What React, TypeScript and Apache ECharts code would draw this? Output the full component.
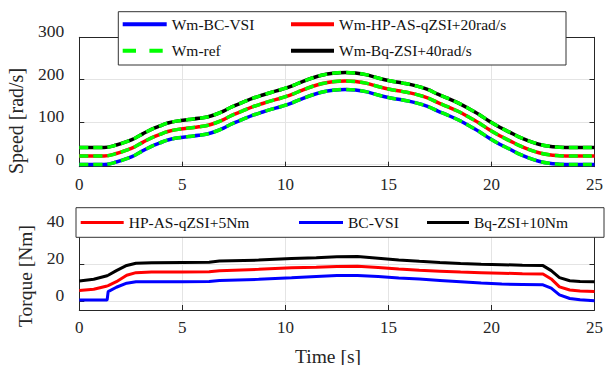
import React, { useEffect, useRef } from 'react';
import * as echarts from 'echarts';

// ---- Speed (top panel) ----
const speedTime = [0, 1.2, 1.8, 2.3, 2.7, 3.1, 3.5, 3.9, 4.3, 4.8, 5.3, 5.8, 6.2, 6.6, 7.0, 7.4, 7.9, 8.4, 8.9, 9.3, 9.8, 10.3, 10.8, 11.3, 11.8, 12.3, 12.9, 13.4, 13.9, 14.5, 15.0, 15.7, 16.3, 16.9, 17.4, 17.9, 18.4, 18.9, 19.4, 19.9, 20.4, 20.9, 21.3, 21.8, 22.3, 22.8, 23.3, 23.8, 25];
// measured speed (all converters track the reference)
const speedRef = [0, 0, 6, 14, 22, 33, 43, 51, 58, 63, 66, 69, 72, 78, 86, 96, 106, 116, 124, 130, 137, 145, 155, 164, 171, 175, 177, 176, 172, 164, 158, 152, 146, 137, 126, 116, 105, 92, 78, 62, 48, 36, 26, 16, 8, 3, 1, 0, 0];
const speedOffsetBC = 0;
const speedOffsetHP = 20;
const speedOffsetBq = 40;

// ---- Torque (bottom panel) ----
const torqueTime = [0, 0.7, 1.35, 1.4, 1.8, 2.3, 2.75, 3.5, 5, 6.3, 6.8, 8.7, 10.3, 11.5, 12.5, 13.5, 14.5, 15.5, 16.5, 17.5, 18.5, 19.5, 20.5, 21.5, 22.5, 22.9, 23.3, 23.8, 24.3, 25];
const torqueBC = [0.4, 0.4, 0.4, 4.9, 7.3, 9.5, 10.3, 10.3, 10.3, 10.4, 10.9, 11.6, 12.4, 13.1, 13.6, 13.6, 13.1, 12.3, 11.7, 11.0, 10.3, 9.6, 9.0, 8.8, 8.6, 6.8, 3.2, 1.2, 0.5, 0.0];
const torqueHP = [0.5, 1.2, 3.0, 3.2, 5.3, 8.8, 10.2, 10.5, 10.6, 10.7, 11.2, 12.0, 12.8, 13.1, 13.5, 13.6, 13.0, 12.2, 11.5, 11.0, 10.5, 10.2, 9.9, 9.6, 9.5, 6.8, 2.5, 0.8, 0.3, 0.0];
const torqueBq = [0.7, 1.6, 3.5, 3.8, 6.3, 9.1, 10.3, 10.6, 10.7, 10.8, 11.5, 12.0, 12.9, 13.3, 13.8, 13.9, 13.0, 12.1, 11.3, 10.7, 10.2, 9.8, 9.5, 9.2, 9.0, 6.3, 2.5, 0.8, 0.4, 0.3];
const torqueOffsetHP = 5;
const torqueOffsetBq = 10;

const timeTicks = [0, 5, 10, 15, 20, 25];
const speedTicks = [0, 100, 200, 300];
const torqueTicks = [0, 20, 40];

const FONT = 'Liberation Serif';
const AXIS_COLOR = '#262626';
const GRID_COLOR = '#e4e4e4';

const pairs = (t: number[], v: number[], off: number) => t.map((x, i) => [x, v[i] + off]);

function xAxes(grid: number) {
  const base = {
    gridIndex: grid,
    type: 'value' as const,
    min: timeTicks[0],
    max: timeTicks[timeTicks.length - 1],
    interval: timeTicks[1] - timeTicks[0],
    axisLine: { show: true, onZero: false, lineStyle: { color: AXIS_COLOR, width: 1 } },
    axisTick: { show: true, inside: true, length: 5, lineStyle: { color: AXIS_COLOR } },
  };
  return [
    {
      ...base,
      position: 'bottom',
      axisLabel: {
        show: true,
        margin: 9,
        fontSize: 17,
        fontFamily: FONT,
        color: AXIS_COLOR,
      },
      splitLine: { show: true, lineStyle: { color: GRID_COLOR, width: 1 } },
    },
    {
      ...base,
      position: 'top',
      axisLabel: { show: false },
      splitLine: { show: false },
    },
  ];
}

function yAxes(grid: number, min: number, max: number, ticks: number[]) {
  const base = {
    gridIndex: grid,
    type: 'value' as const,
    min,
    max,
    axisLine: { show: true, onZero: false, lineStyle: { color: AXIS_COLOR, width: 1 } },
    axisTick: { show: true, inside: true, length: 5, customValues: ticks, lineStyle: { color: AXIS_COLOR } },
  };
  return [
    {
      ...base,
      position: 'left',
      axisLabel: {
        show: true,
        customValues: ticks,
        margin: 15,
        fontSize: 17.5,
        fontFamily: FONT,
        color: AXIS_COLOR,
        verticalAlign: 'bottom',
        lineHeight: 12,
      },
      splitLine: { show: true, lineStyle: { color: GRID_COLOR, width: 1 } },
    },
    {
      ...base,
      position: 'right',
      axisLabel: { show: false },
      splitLine: { show: false },
    },
  ];
}

function legendItem(name: string, left: number, top: number, itemWidth: number, itemHeight: number, icon: string, textPad: number[]) {
  return {
    data: [name],
    left,
    top,
    orient: 'horizontal',
    padding: 0,
    itemWidth,
    itemHeight,
    icon,
    selectedMode: false,
    z: 20,
    textStyle: { fontSize: 15.5, fontFamily: FONT, color: '#111', lineHeight: 16, padding: textPad },
  };
}

export default function App() {
  const ref = useRef<HTMLDivElement>(null);

  useEffect(() => {
    if (!ref.current) return;
    const chart = echarts.init(ref.current, null, { renderer: 'svg' });

    const speedLine = (name: string, color: string, off: number) => ({
      name,
      type: 'line',
      xAxisIndex: 0,
      yAxisIndex: 0,
      data: pairs(speedTime, speedRef, off),
      symbol: 'none',
      smooth: 0.35,
      lineStyle: { color, width: 3.5 },
      itemStyle: { color },
      z: 2,
    });
    const refLine = (off: number) => ({
      name: 'Wm-ref',
      type: 'line',
      xAxisIndex: 0,
      yAxisIndex: 0,
      data: pairs(speedTime, speedRef, off),
      symbol: 'none',
      smooth: 0.35,
      lineStyle: { color: '#00ff00', width: 3.5, type: [9, 5] },
      itemStyle: { color: '#00ff00' },
      z: 3,
    });
    const torqueLine = (name: string, color: string, v: number[], off: number) => ({
      name,
      type: 'line',
      xAxisIndex: 2,
      yAxisIndex: 2,
      data: pairs(torqueTime, v, off),
      symbol: 'none',
      lineStyle: { color, width: 3 },
      itemStyle: { color },
      z: 2,
    });

    chart.setOption({
      animation: false,
      backgroundColor: '#ffffff',
      textStyle: { fontFamily: FONT },
      grid: [
        { left: 79.3, top: 37.3, width: 521, height: 129.4, containLabel: false },
        { left: 79.3, top: 208.3, width: 521, height: 101.7, containLabel: false },
      ],
      xAxis: [...xAxes(0), ...xAxes(1)],
      yAxis: [...yAxes(0, -5, 300, speedTicks), ...yAxes(1, -5, 50, torqueTicks)],
      legend: [
        legendItem('Wm-BC-VSI', 122.7, 13.8, 44, 4, 'rect', [0, 0, 5, 0]),
        legendItem('Wm-HP-AS-qZSI+20rad/s', 291, 13.8, 43, 4, 'rect', [0, 0, 5, 0]),
        legendItem('Wm-ref', 122.7, 40.2, 40, 4, 'path://M0 0H13.3V4H0Z M26.7 0H40V4H26.7Z', [0, 0, 5, 4]),
        legendItem('Wm-Bq-ZSI+40rad/s', 291, 40.2, 43, 4, 'rect', [0, 0, 5, 0]),
        legendItem('HP-AS-qZSI+5Nm', 80.7, 214.5, 43, 3, 'rect', [0, 0, 0, 0]),
        legendItem('BC-VSI', 299, 214.5, 44, 3, 'rect', [0, 0, 0, 0]),
        legendItem('Bq-ZSI+10Nm', 427, 214.5, 42, 3, 'rect', [0, 0, 0, 0]),
      ],
      graphic: [
        {
          type: 'rect',
          z: 10,
          shape: { x: 118.3, y: 11.7, width: 447.7, height: 53.3 },
          style: { fill: '#ffffff', stroke: '#333333', lineWidth: 1 },
        },
        {
          type: 'rect',
          z: 10,
          shape: { x: 76, y: 207.7, width: 528, height: 29.6 },
          style: { fill: '#ffffff', stroke: '#333333', lineWidth: 1 },
        },
        {
          type: 'text',
          z: 30,
          x: 16,
          y: 121,
          rotation: Math.PI / 2,
          style: { text: 'Speed [rad/s]', fontSize: 20, fontFamily: FONT, fill: AXIS_COLOR, align: 'center', verticalAlign: 'middle' },
        },
        {
          type: 'text',
          z: 30,
          x: 25,
          y: 276,
          rotation: Math.PI / 2,
          style: { text: 'Torque [Nm]', fontSize: 19.5, fontFamily: FONT, fill: AXIS_COLOR, align: 'center', verticalAlign: 'middle' },
        },
        {
          type: 'text',
          z: 30,
          x: 328,
          y: 356,
          style: { text: 'Time [s]', fontSize: 19.5, fontFamily: FONT, fill: AXIS_COLOR, align: 'center', verticalAlign: 'middle' },
        },
      ],
      series: [
        speedLine('Wm-BC-VSI', '#0000ff', speedOffsetBC),
        speedLine('Wm-HP-AS-qZSI+20rad/s', '#ff0000', speedOffsetHP),
        speedLine('Wm-Bq-ZSI+40rad/s', '#000000', speedOffsetBq),
        refLine(speedOffsetBC),
        refLine(speedOffsetHP),
        refLine(speedOffsetBq),
        torqueLine('HP-AS-qZSI+5Nm', '#ff0000', torqueHP, torqueOffsetHP),
        torqueLine('BC-VSI', '#0000ff', torqueBC, 0),
        torqueLine('Bq-ZSI+10Nm', '#000000', torqueBq, torqueOffsetBq),
      ],
    });

    return () => chart.dispose();
  }, []);

  return (
    <div
      ref={ref}
      style={{ position: 'absolute', left: 0, top: 0, width: 606, height: 365, background: '#fff' }}
    />
  );
}
